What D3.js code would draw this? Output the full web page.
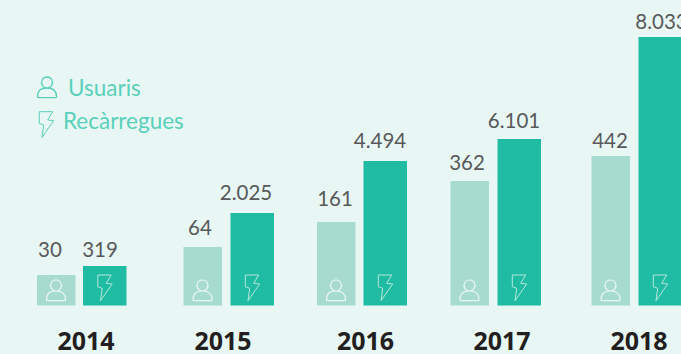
<!DOCTYPE html>
<html>
<head>
<meta charset="utf-8">
<script src="https://cdn.jsdelivr.net/npm/d3@7"></script>
<style>
  html, body { margin: 0; padding: 0; background: #e8f7f4; overflow: hidden; }
  svg { display: block; }
  .val { font: 20.5px Lato, sans-serif; fill: #58595b; text-anchor: middle; }
  .year { font: 700 25px "Noto Sans", sans-serif; fill: #231f20; text-anchor: middle; }
  .legend { font: 22.5px Lato, sans-serif; fill: #5ad0ba; }
</style>
</head>
<body>
<div id="chart"></div>
<script>
var years = ["2014", "2015", "2016", "2017", "2018"],
    usuaris = [30, 64, 161, 362, 442],
    recarregues = [319, 2025, 4494, 6101, 8033],
    legendLabels = ["Usuaris", "Recàrregues"];

var fmt = d3.format(",d"),
    label = function(v) { return fmt(v).replace(/,/g, "."); };

var w = 681, h = 354, base = 305.5;

// the groups are not evenly spaced in the original, neither are the heights linear
var xU = d3.scaleOrdinal().domain(years).range([37, 183.5, 317, 450.5, 591.5]),
    xR = d3.scaleOrdinal().domain(years).range([83, 230.5, 363.5, 497.5, 638.5]),
    xYear = d3.scaleOrdinal().domain(years).range([86, 223, 365.5, 502, 639]),
    yU = d3.scaleLinear().domain(usuaris).range([275, 247, 222, 181, 156]),
    yR = d3.scaleLinear().domain(recarregues).range([266, 213, 161, 139, 37]);

// value labels sit at uneven distances from their bars too
var labelXU = d3.scaleOrdinal().domain(years).range([50, 200, 335, 467, 610]),
    labelXR = d3.scaleOrdinal().domain(years).range([100, 246, 380, 514, 661.5]),
    labelYU = d3.scaleOrdinal().domain(years).range([257, 235, 206, 170, 148]),
    labelYR = d3.scaleOrdinal().domain(years).range([257, 200, 148, 128, 29]);

var svg = d3.select("#chart").append("svg")
    .attr("width", w)
    .attr("height", h);

var userPath = "M0 -5.5a5.5 5.5 0 1 0 .01 0zM-9.5 14.2c0 -6.7 4 -8.7 9.5 -8.7s9.5 2 9.5 8.7c0 .6 -.4 1 -1 1h-17c-.6 0 -1 -.4 -1 -1z",
    boltPath = "M-6.7 -11H6.7L1.7 -2.7L7.7 -2L-4 14.7L-2.3 2.3L-6.7 .7Z";

function icon(sel, path, x, y, color, sw) {
  sel.append("path")
      .attr("d", path)
      .attr("transform", "translate(" + x + "," + y + ")")
      .attr("fill", "none")
      .attr("stroke", color)
      .attr("stroke-width", sw);
}

years.forEach(function(yr, i) {
  var g = svg.append("g");

  g.append("rect")
      .attr("x", xU(yr))
      .attr("y", yU(usuaris[i]))
      .attr("width", 38.5)
      .attr("height", base - yU(usuaris[i]))
      .attr("fill", "#a8dbcf");

  g.append("rect")
      .attr("x", xR(yr))
      .attr("y", yR(recarregues[i]))
      .attr("width", 43.5)
      .attr("height", base - yR(recarregues[i]))
      .attr("fill", "#1fbba3");

  icon(g, userPath, xU(yr) + 19, 285.5, "#e8f7f4", 1.2);
  icon(g, boltPath, xR(yr) + 21.5, 286, "#b5e8dd", 1);

  g.append("text")
      .attr("class", "val")
      .attr("x", labelXU(yr))
      .attr("y", labelYU(yr))
      .text(label(usuaris[i]));

  g.append("text")
      .attr("class", "val")
      .attr("x", labelXR(yr))
      .attr("y", labelYR(yr))
      .text(label(recarregues[i]));

  g.append("text")
      .attr("class", "year")
      .attr("x", xYear(yr))
      .attr("y", 350)
      .text(yr);
});

// legend
icon(svg, userPath, 47, 82.5, "#5ad0ba", 1.3);
icon(svg, boltPath, 46, 122.7, "#5ad0ba", 1);

svg.append("text").attr("class", "legend").attr("x", 68).attr("y", 96).text(legendLabels[0]);
svg.append("text").attr("class", "legend").attr("x", 63).attr("y", 129).text(legendLabels[1]);
</script>
</body>
</html>
